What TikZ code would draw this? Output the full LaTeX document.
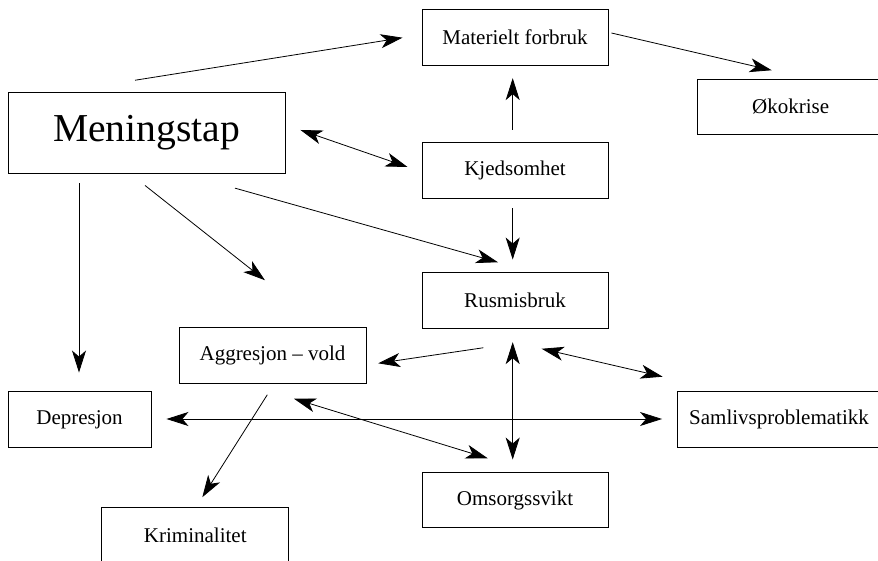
\documentclass[tikz,border=0pt]{standalone}
\usepackage{fontspec}
\setmainfont{Liberation Serif}
\usetikzlibrary{arrows.meta}

\tikzset{
  box/.style={draw, line width=0.9pt, rectangle, inner sep=0pt,
    minimum height=56pt, minimum width=186pt,
    font=\fontsize{21}{25}\selectfont},
  head/.style={Stealth[length=22pt,width=14pt,inset=6pt]},
  link/.style={line width=0.8pt, -{Stealth[length=22pt,width=14pt,inset=6pt]}},
  both/.style={line width=0.8pt, {Stealth[length=22pt,width=14pt,inset=6pt]}-{Stealth[length=22pt,width=14pt,inset=6pt]}}
}

\begin{document}
\begin{tikzpicture}[x=1pt, y=-1pt]
\useasboundingbox (0,0) rectangle (878,561);
\clip (0,0) rectangle (878,561);

% boxes
\node[box, minimum width=277pt, minimum height=81pt,
      font=\fontsize{39.6}{46}\selectfont] (men) at (146.5,132.5) {Meningstap};
\node[box] (mat) at (515,37) {Materielt forbruk};
\node[box, minimum height=55pt] (oko) at (790.7,106.5) {Økokrise};
\node[box] (kje) at (515,170) {Kjedsomhet};
\node[box] (rus) at (515,300.5) {Rusmisbruk};
\node[box, minimum width=187pt] (agg) at (272.5,355.3) {Aggresjon -- vold};
\node[box, minimum width=143pt] (dep) at (79.5,419.7) {Depresjon};
\node[box, minimum width=187pt] (kri) at (195.3,535) {Kriminalitet};
\node[box, minimum height=55pt] (oms) at (515,500.3) {Omsorgssvikt};
\node[box, minimum width=203pt] (sam) at (779,419.5) {Samlivsproblematikk};

% connectors
\draw[link] ([shift={(-11.5,-11.3)}]men.north) -- ([shift={(-19,0.7)}]mat.west);
\draw[both] ([shift={(15,-2.5)}]men.east) -- ([shift={(-14,-3)}]kje.west);
\draw[link] ([shift={(-2.3,-12)}]kje.north) -- ([shift={(-2.3,12.7)}]mat.south);
\draw[link] ([shift={(3,-4)}]mat.east) -- ([shift={(-19,-8.3)}]oko.north);
\draw[link] ([shift={(-2.3,9.7)}]kje.south) -- ([shift={(-2.3,-12.5)}]rus.north);
\draw[link] ([shift={(88.5,14.7)}]men.south) -- ([shift={(-17,-9.8)}]rus.north);
\draw[link] ([shift={(-1.5,12)}]men.south) -- ([shift={(-7.5,-46.6)}]agg.north);
\draw[link] ([shift={(-67.5,9.7)}]men.south) -- ([shift={(-0.5,-18.7)}]dep.north);
\draw[link] ([shift={(-31.7,18.8)}]rus.south) -- ([shift={(11.7,8)}]agg.east);
\draw[both] ([shift={(26.7,19.8)}]rus.south) -- ([shift={(-14.4,-42.8)}]sam.west);
\draw[both] ([shift={(-2.3,13.2)}]rus.south) -- ([shift={(-2.3,-12.8)}]oms.north);
\draw[both] ([shift={(15,-0.7)}]dep.east) -- ([shift={(-15,-0.5)}]sam.west);
\draw[both] ([shift={(21.5,15)}]agg.south) -- ([shift={(-27.3,-14.1)}]oms.north);
\draw[link] ([shift={(-5.2,11)}]agg.south) -- ([shift={(7,-9.3)}]kri.north);
\end{tikzpicture}
\end{document}
